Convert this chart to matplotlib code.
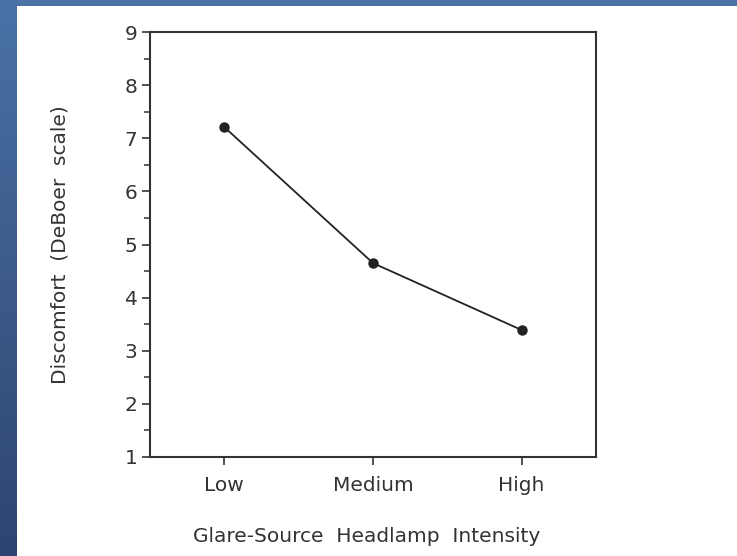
import numpy as np
import matplotlib
matplotlib.use("Agg")
import matplotlib.pyplot as plt
from matplotlib.ticker import MultipleLocator

intensity = ["Low", "Medium", "High"]
discomfort = [7.21, 4.65, 3.39]

plt.rcParams['font.family'] = ['DejaVu Sans']

fig = plt.figure(figsize=(7.37, 5.56), dpi=100)
fig.patch.set_facecolor("white")

# blue slide frame: band across the top, gradient strip down the left
top = fig.add_axes([0, 1 - 6 / 556, 1, 6 / 556])
top.set_axis_off()
top.add_patch(plt.Rectangle((0, 0), 1, 1, color="#4a72a6", transform=top.transAxes))
side = fig.add_axes([0, 0, 17 / 737, 1])
side.set_axis_off()
grad = np.linspace(0, 1, 256).reshape(-1, 1)
cmap = matplotlib.colors.LinearSegmentedColormap.from_list("frame", ["#4a72a6", "#2e4470"])
side.imshow(grad, aspect="auto", cmap=cmap, extent=[0, 1, 1, 0])

ax = fig.add_axes([150 / 737, 1 - 457 / 556, 446 / 737, 425 / 556])
x = np.arange(len(intensity))
ax.plot(x, discomfort, color="#222222", lw=1.3, marker="o", ms=6.5, mfc="#222222", mec="#222222")

ax.set_xlim(-0.5, 2.5)
ax.set_ylim(1, 9)
ax.set_xticks(x)
ax.set_xticklabels(intensity)
ax.yaxis.set_major_locator(MultipleLocator(1))
ax.yaxis.set_minor_locator(MultipleLocator(0.5))
ax.tick_params(axis="both", which="major", direction="out", length=6, width=1.2,
               color="#333333", labelsize=14.5, labelcolor="#333333")
ax.tick_params(axis="y", which="minor", direction="out", length=4, width=1.1, color="#333333")
ax.tick_params(axis="x", pad=8)
ax.tick_params(axis="y", pad=3)
for s in ax.spines.values():
    s.set_linewidth(1.5)
    s.set_color("#333333")

ax.set_xlabel("Glare-Source  Headlamp  Intensity", fontsize=14.5, color="#333333")
ax.xaxis.set_label_coords(0.485, -0.165)
ax.set_ylabel("Discomfort  (DeBoer  scale)", fontsize=14.5, color="#333333")
ax.yaxis.set_label_coords(-0.18, 0.5)

fig.savefig("out.png", dpi=100)
